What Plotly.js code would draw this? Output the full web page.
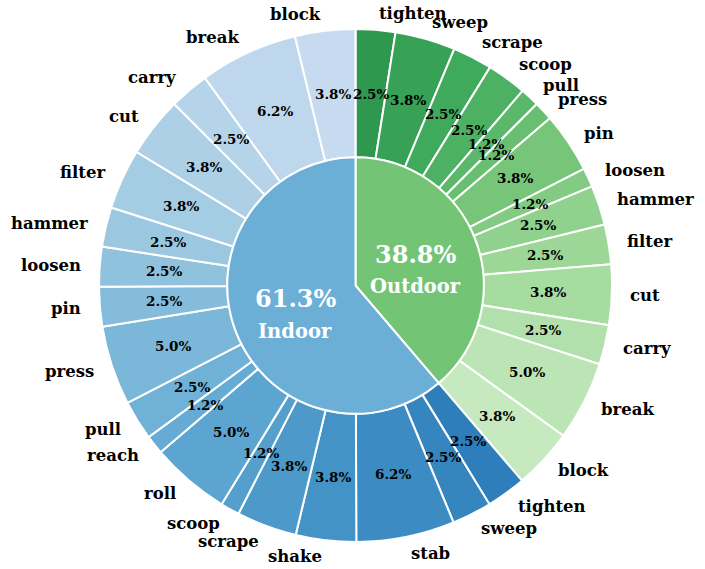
<!DOCTYPE html>
<html>
<head>
<meta charset="utf-8">
<script src="https://cdn.plot.ly/plotly-3.0.1.min.js"></script>
<style>html,body{margin:0;padding:0;background:#fff;}#chart{width:705px;height:569px;}</style>
</head>
<body>
<div id="chart"></div>
<script>
// ---- data ----
const groupLabels = ['Outdoor', 'Indoor'];
const groupPct = [38.8, 61.3];
const outdoorLabels = ['tighten','sweep','scrape','scoop','pull','press','pin','loosen','hammer','filter','cut','carry','break','block'];
const outdoorPct = [2.5, 3.8, 2.5, 2.5, 1.2, 1.2, 3.8, 1.2, 2.5, 2.5, 3.8, 2.5, 5.0, 3.8];
const indoorLabels = ['tighten','sweep','stab','shake','scrape','scoop','roll','reach','pull','press','pin','loosen','hammer','filter','cut','carry','break','block'];
const indoorPct = [2.5, 2.5, 6.2, 3.8, 3.8, 1.2, 5.0, 1.2, 2.5, 5.0, 2.5, 2.5, 2.5, 3.8, 3.8, 2.5, 6.2, 3.8];

// ---- colormaps ----
const GREENS = ['#f7fcf5','#e5f5e0','#c7e9c0','#a1d99b','#74c476','#41ab5d','#238b45','#006d2c','#00441b'];
const BLUES  = ['#f7fbff','#deebf7','#c6dbef','#9ecae1','#6baed6','#4292c6','#2171b5','#08519c','#08306b'];
function cmap(stops, t) {
  const n = stops.length - 1;
  const p = Math.max(0, Math.min(1, t)) * n;
  const i = Math.min(n - 1, Math.floor(p));
  const f = p - i;
  const a = stops[i], b = stops[i + 1];
  const ch = (s, k) => parseInt(s.substr(1 + 2 * k, 2), 16);
  const c = [0, 1, 2].map(k => Math.round(ch(a, k) + (ch(b, k) - ch(a, k)) * f));
  return 'rgb(' + c.join(',') + ')';
}
function ramp(stops, n) {
  const out = [];
  for (let i = 0; i < n; i++) out.push(cmap(stops, 0.7 - (0.45 * i) / (n - 1)));
  return out;
}

// ---- geometry (pixels) ----
const W = 705, H = 569;
const cx = 355.5, cy = 285.5, R = 256.5, r = 128.25;

const outerValues = outdoorPct.concat(indoorPct);
const outerNames = outdoorLabels.concat(indoorLabels);
const outerIds = outdoorLabels.map(l => 'Outdoor ' + l).concat(indoorLabels.map(l => 'Indoor ' + l));
const outerColors = ramp(GREENS, outdoorLabels.length).concat(ramp(BLUES, indoorLabels.length));
const innerColors = [cmap(GREENS, 0.5), cmap(BLUES, 0.5)];

const outerTrace = {
  type: 'pie', values: outerValues, labels: outerIds, sort: false,
  direction: 'clockwise', rotation: 0, hole: r / R,
  marker: {colors: outerColors, line: {color: '#ffffff', width: 2}},
  textinfo: 'none', hoverinfo: 'none', showlegend: false,
  domain: {x: [(cx - R) / W, (cx + R) / W], y: [(H - cy - R) / H, (H - cy + R) / H]}
};
const innerTrace = {
  type: 'pie', values: groupPct, labels: groupLabels, sort: false,
  direction: 'clockwise', rotation: 0,
  marker: {colors: innerColors, line: {color: '#ffffff', width: 2}},
  textinfo: 'none', hoverinfo: 'none', showlegend: false,
  domain: {x: [(cx - r) / W, (cx + r) / W], y: [(H - cy - r) / H, (H - cy + r) / H]}
};

const FONT = 'DejaVu Serif';
const annotations = [];
function ringText(values, total, radius, builder) {
  let cum = 0;
  values.forEach((v, i) => {
    const th = 2 * Math.PI * (cum + v / 2) / total;
    cum += v;
    const px = cx + Math.sin(th) * radius;
    const py = cy - Math.cos(th) * radius;
    [].concat(builder(i, px / W, 1 - py / H, Math.sin(th))).forEach(a => annotations.push(a));
  });
}
const outerTotal = outerValues.reduce((a, b) => a + b, 0);
// outer labels
ringText(outerValues, outerTotal, R * 1.065, (i, x, y, s) => ({
  x: x, y: y, xref: 'paper', yref: 'paper', showarrow: false,
  text: outerNames[i], xanchor: s > 0 ? 'left' : 'right', yanchor: 'middle',
  font: {family: FONT, size: 16.5, color: '#000', weight: 'bold'}
}));
// outer percentages
ringText(outerValues, outerTotal, R * 0.75, (i, x, y) => ({
  x: x, y: y, xref: 'paper', yref: 'paper', showarrow: false,
  text: outerValues[i].toFixed(1) + '%', xanchor: 'center', yanchor: 'middle',
  font: {family: FONT, size: 13.5, color: '#000', weight: 'bold'}
}));
// inner labels
const innerTotal = groupPct.reduce((a, b) => a + b, 0);
ringText(groupPct, innerTotal, r * 0.5, (i, x, y) => ([
  {
    x: x, y: y, xref: 'paper', yref: 'paper', showarrow: false,
    text: groupPct[i].toFixed(1) + '%', xanchor: 'center', yanchor: 'middle', yshift: 9,
    font: {family: FONT, size: 24, color: '#fff', weight: 'bold'}
  },
  {
    x: x, y: y, xref: 'paper', yref: 'paper', showarrow: false,
    text: groupLabels[i], xanchor: 'center', yanchor: 'middle', yshift: -23.5,
    font: {family: FONT, size: 19.5, color: '#fff', weight: 'bold'}
  }
]));

const layout = {
  width: W, height: H, margin: {l: 0, r: 0, t: 0, b: 0},
  paper_bgcolor: '#fff', plot_bgcolor: '#fff', showlegend: false,
  annotations: annotations
};
Plotly.newPlot('chart', [outerTrace, innerTrace], layout, {staticPlot: true, displayModeBar: false});
</script>
</body>
</html>
